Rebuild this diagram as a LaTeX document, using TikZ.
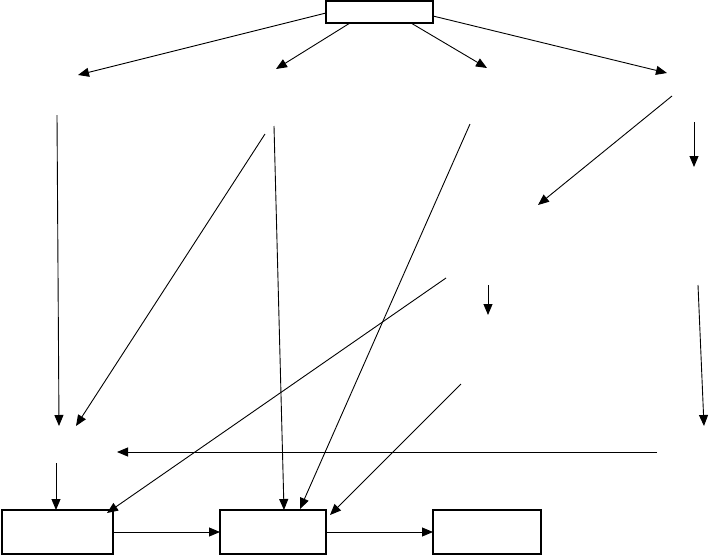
\documentclass[tikz,border=0pt]{standalone}
\usetikzlibrary{arrows.meta}
\begin{document}
\begin{tikzpicture}[x=1pt,y=-1pt,
  boxnode/.style={draw,line width=1.8pt,minimum width=#1,minimum height=44pt,inner sep=0pt,outer sep=0pt,anchor=north west},
  conn/.style={line width=0.9pt,-{Triangle[length=11pt,width=9pt]}},
  plain/.style={line width=0.9pt}]
\useasboundingbox (0,0) rectangle (710,555);
% boxes
\node[boxnode=107pt,minimum height=22pt] (top) at (326,1) {};
\node[boxnode=111pt] (b1) at (2,510) {};
\node[boxnode=106pt] (b2) at (220,510) {};
\node[boxnode=108pt] (b3) at (433,510) {};
% free end points
\coordinate (t1) at (78,75);
\coordinate (t2) at (276,69);
\coordinate (t3) at (487,68);
\coordinate (t4) at (667,73);
\coordinate (s1) at (57,115);   \coordinate (e1) at (59,426);
\coordinate (s2) at (265,134);  \coordinate (e2) at (76,426);
\coordinate (s3) at (274,126);
\coordinate (s4) at (470,124);
\coordinate (s5) at (672,96);   \coordinate (e5) at (538,205);
\coordinate (s6) at (694,122);  \coordinate (e6) at (694,167);
\coordinate (s7) at (446,278);
\coordinate (s8) at (488,285);  \coordinate (e8) at (488,315);
\coordinate (s9) at (461,384);
\coordinate (s10) at (698,285); \coordinate (e10) at (704,426);
\coordinate (s11) at (657,452); \coordinate (e11) at (117,452);
\coordinate (s12) at (56,463);
% connectors from top box
\draw[conn] (top.west |- 0,13) -- (t1);
\draw[conn] (350,23) -- (t2);
\draw[conn] (411,23) -- (t3);
\draw[conn] (top.east |- 0,16) -- (t4);
% middle connectors
\draw[conn] (s1) -- (e1);
\draw[conn] (s2) -- (e2);
\draw[conn] (s3) -- (b2.north west -| 284,0);
\draw[conn] (s4) -- (300,509);
\draw[conn] (s5) -- (e5);
\draw[conn] (s6) -- (e6);
\draw[conn] (s7) -- (107,513);
\draw[conn] (s8) -- (e8);
\draw[conn] (s9) -- (330,515);
\draw[conn] (s10) -- (e10);
\draw[conn] (s11) -- (e11);
\draw[conn] (s12) -- (b1.north west -| 56,0);
% bottom chain
\draw[conn] (b1.east |- 0,532) -- (b2.west |- 0,532);
\draw[conn] (b2.east |- 0,532) -- (b3.west |- 0,532);
\end{tikzpicture}
\end{document}
